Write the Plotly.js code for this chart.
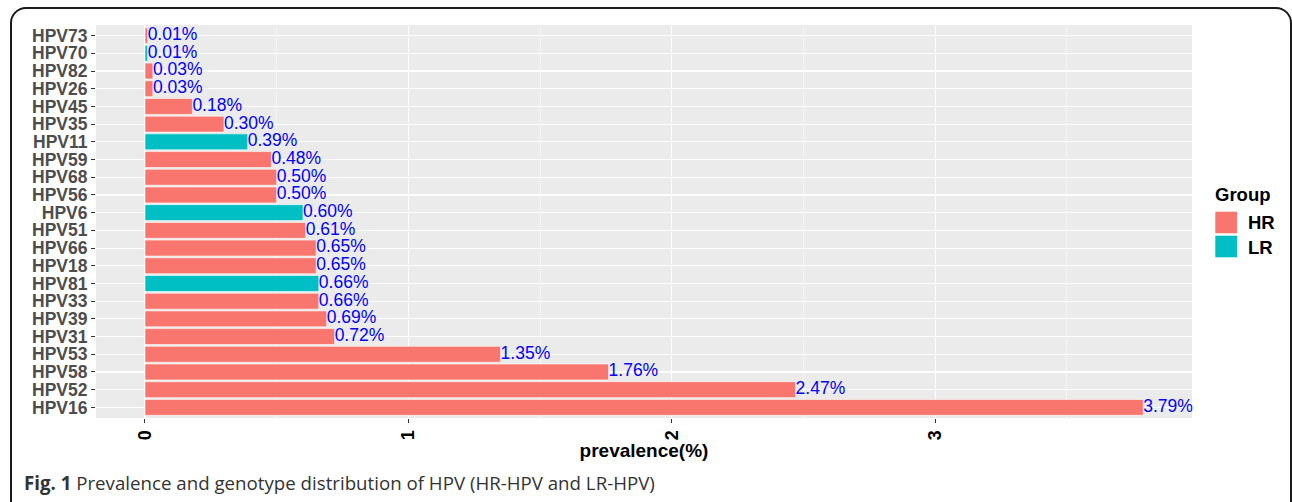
<!DOCTYPE html>
<html>
<head>
<meta charset="utf-8">
<script src="https://cdn.plot.ly/plotly-3.0.1.min.js"></script>
<style>
  html, body { margin: 0; padding: 0; background: #ffffff; overflow: hidden; }
  #wrap { position: relative; width: 1292px; height: 502px; overflow: hidden; }
  #chart { position: absolute; left: 0; top: 0; width: 1292px; height: 502px; }
  #frame { position: absolute; left: 10px; top: 7px; width: 1282px; height: 520px;
           border: 2px solid #1a1a1a; border-radius: 16px; box-sizing: border-box; pointer-events: none; }
</style>
</head>
<body>
<div id="wrap">
  <div id="chart"></div>
  <div id="frame"></div>
</div>
<script>
// Data (top to bottom as shown in the chart)
const genotypes = ["HPV73","HPV70","HPV82","HPV26","HPV45","HPV35","HPV11","HPV59","HPV68","HPV56","HPV6",
                   "HPV51","HPV66","HPV18","HPV81","HPV33","HPV39","HPV31","HPV53","HPV58","HPV52","HPV16"];
const prevalence = [0.01,0.01,0.03,0.03,0.18,0.30,0.39,0.48,0.50,0.50,0.60,
                    0.61,0.65,0.65,0.66,0.66,0.69,0.72,1.35,1.76,2.47,3.79];
const groups = ["HR","LR","HR","HR","HR","HR","LR","HR","HR","HR","LR",
                "HR","HR","HR","LR","HR","HR","HR","HR","HR","HR","HR"];
const groupNames = ["HR","LR"];
const groupColors = {HR: "#F8766D", LR: "#00BFC4"};
const xTicks = [0,1,2,3];

const traces = groupNames.map(g => {
  const idx = genotypes.map((_, i) => i).filter(i => groups[i] === g);
  return {
    type: "bar",
    orientation: "h",
    name: g,
    y: idx.map(i => genotypes[i]),
    x: idx.map(i => prevalence[i]),
    width: 0.9,
    marker: {color: groupColors[g], line: {color: "#ffffff", width: 0.6}},
    showlegend: false,
    hoverinfo: "x+y"
  };
});

traces.push({
  type: "scatter",
  mode: "text",
  y: genotypes,
  x: prevalence,
  text: prevalence.map(v => v.toFixed(2) + "%"),
  textposition: "middle right",
  textfont: {family: "Liberation Sans, Arial, sans-serif", size: 17.5, color: "#0000FF"},
  cliponaxis: false,
  showlegend: false,
  hoverinfo: "skip"
});

const W = 1292, H = 502;
const L = 96, R = W - 1191.7, T = 25, B = H - 418;
const pw = W - L - R, ph = H - T - B;
const px = v => (v - L) / pw;
const py = v => (H - B - v) / ph;

const baseFont = "Liberation Sans, Arial, Helvetica, sans-serif";

const layout = {
  width: W, height: H,
  margin: {l: L, r: R, t: T, b: B, pad: 0},
  paper_bgcolor: "rgba(0,0,0,0)",
  plot_bgcolor: "#EBEBEB",
  barmode: "overlay",
  font: {family: baseFont, color: "#000"},
  xaxis: {
    range: [-0.186, 3.975],
    tickmode: "array",
    tickvals: xTicks,
    ticktext: xTicks.map(String),
    tickangle: -90,
    ticks: "outside", ticklen: 4, tickwidth: 1, tickcolor: "#333333",
    tickfont: {family: baseFont, size: 18, color: "#000", weight: "bold"},
    showgrid: true, gridcolor: "#FFFFFF", gridwidth: 1.1,
    minor: {dtick: 0.5, tick0: 0.5, showgrid: true, gridcolor: "#FFFFFF", gridwidth: 0.55, ticks: ""},
    zeroline: false, showline: false,
    title: {text: "prevalence(%)", font: {family: baseFont, size: 19, color: "#000", weight: "bold"}, standoff: 2},
    automargin: false,
    fixedrange: true
  },
  yaxis: {
    type: "category",
    categoryorder: "array",
    categoryarray: genotypes.slice().reverse(),
    tickmode: "array",
    tickvals: genotypes,
    ticktext: genotypes,
    range: [-0.6, genotypes.length - 0.4],
    ticks: "outside", ticklen: 4, tickwidth: 1, tickcolor: "#333333",
    tickfont: {family: baseFont, size: 17.5, color: "#4D4D4D", weight: "bold"},
    showgrid: true, gridcolor: "#FFFFFF", gridwidth: 1.1,
    zeroline: false, showline: false,
    automargin: false,
    fixedrange: true
  },
  shapes: groupNames.map((g, k) => ({
    type: "rect", xref: "paper", yref: "paper",
    x0: px(1215), x1: px(1236.7),
    y0: py(211.7 + k * 24 + 21.6), y1: py(211.7 + k * 24),
    fillcolor: groupColors[g], line: {width: 0}
  })),
  annotations: [
    {xref: "paper", yref: "paper", x: px(1213), y: py(194), xanchor: "left", yanchor: "middle",
     text: "Group", showarrow: false, font: {family: baseFont, size: 18.5, color: "#000", weight: "bold"}},
    ...groupNames.map((g, k) => ({
      xref: "paper", yref: "paper", x: px(1246), y: py(223 + k * 24), xanchor: "left", yanchor: "middle",
      text: g, showarrow: false, font: {family: baseFont, size: 18.5, color: "#000", weight: "bold"}
    })),
    {xref: "paper", yref: "paper", x: px(22), y: py(482), xanchor: "left", yanchor: "middle",
     text: "<b>Fig. 1</b> Prevalence and genotype distribution of HPV (HR-HPV and LR-HPV)",
     showarrow: false, font: {family: "Open Sans, Noto Sans, sans-serif", size: 18.7, color: "#333333"}}
  ],
  showlegend: false
};

Plotly.newPlot("chart", traces, layout, {displayModeBar: false, staticPlot: true});
</script>
</body>
</html>
